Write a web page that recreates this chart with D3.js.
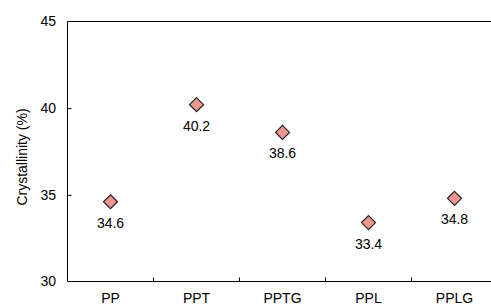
<!DOCTYPE html>
<html>
<head>
<meta charset="utf-8">
<script src="https://cdn.jsdelivr.net/npm/d3@7"></script>
<style>
  body { margin: 0; background: #fff; }
  svg { display: block; font-family: "Liberation Sans", Arial, sans-serif; }
</style>
</head>
<body>
<script>
// data
var samples = ["PP", "PPT", "PPTG", "PPL", "PPLG"];
var crystallinity = [34.6, 40.2, 38.6, 33.4, 34.8];
var yTicks = [30, 35, 40, 45];

var margin = {top: 21.5, left: 67.5},
    plotH = 260,
    bandW = 86;

var svg = d3.select("body").append("svg")
    .attr("width", 491)
    .attr("height", 304);

var x = d3.scaleBand().domain(samples).range([margin.left, margin.left + bandW * samples.length]);
var y = d3.scaleLinear().domain([30, 45]).range([margin.top + plotH, margin.top]);

// top border
svg.append("line")
    .attr("x1", margin.left).attr("x2", 491)
    .attr("y1", margin.top).attr("y2", margin.top)
    .attr("stroke", "#000").attr("stroke-width", 1);

// y axis, ticks pointing inward
var yAxis = svg.append("g")
    .attr("transform", "translate(" + margin.left + ",0)")
    .call(d3.axisRight(y).tickValues(yTicks).tickSize(4).tickFormat(""));
yAxis.select(".domain").attr("d", "M0," + y(30) + "V" + y(45));
yAxis.selectAll(".tick").filter(function(d) { return d === 30 || d === 45; }).select("line").remove();

svg.selectAll(".ylab")
    .data(yTicks)
    .enter().append("text")
    .attr("class", "ylab")
    .attr("x", 56)
    .attr("y", function(d) { return y(d); })
    .attr("dy", "0.35em")
    .attr("text-anchor", "end")
    .style("font-size", "14px")
    .text(function(d) { return d; });

// x axis, ticks at band boundaries pointing up
var xAxis = svg.append("g")
    .attr("transform", "translate(0," + y(30) + ")");
xAxis.append("line")
    .attr("x1", margin.left).attr("x2", 491)
    .attr("stroke", "#000");
xAxis.selectAll(".xt")
    .data(samples.slice(1))
    .enter().append("line")
    .attr("class", "xt")
    .attr("x1", function(d) { return x(d); })
    .attr("x2", function(d) { return x(d); })
    .attr("y1", 0).attr("y2", -4)
    .attr("stroke", "#000");

svg.selectAll(".xlab")
    .data(samples)
    .enter().append("text")
    .attr("class", "xlab")
    .attr("x", function(d) { return x(d) + x.bandwidth() / 2; })
    .attr("y", 303)
    .attr("text-anchor", "middle")
    .style("font-size", "14px")
    .text(function(d) { return d; });

// axis title
svg.append("text")
    .attr("transform", "translate(27,157) rotate(-90)")
    .attr("text-anchor", "middle")
    .style("font-size", "14px")
    .text("Crystallinity (%)");

// markers
var pts = samples.map(function(s, i) { return {name: s, value: crystallinity[i]}; });

svg.selectAll(".pt")
    .data(pts)
    .enter().append("path")
    .attr("class", "pt")
    .attr("d", "M0,-7L7,0L0,7L-7,0Z")
    .attr("transform", function(d) {
      return "translate(" + (x(d.name) + x.bandwidth() / 2) + "," + y(d.value) + ")";
    })
    .attr("fill", "#EE9590")
    .attr("stroke", "#222")
    .attr("stroke-width", 1.2);

svg.selectAll(".vlab")
    .data(pts)
    .enter().append("text")
    .attr("class", "vlab")
    .attr("x", function(d) { return x(d.name) + x.bandwidth() / 2; })
    .attr("y", function(d) { return y(d.value) + 26; })
    .attr("text-anchor", "middle")
    .style("font-size", "14px")
    .text(function(d) { return d.value.toFixed(1); });
</script>
</body>
</html>
